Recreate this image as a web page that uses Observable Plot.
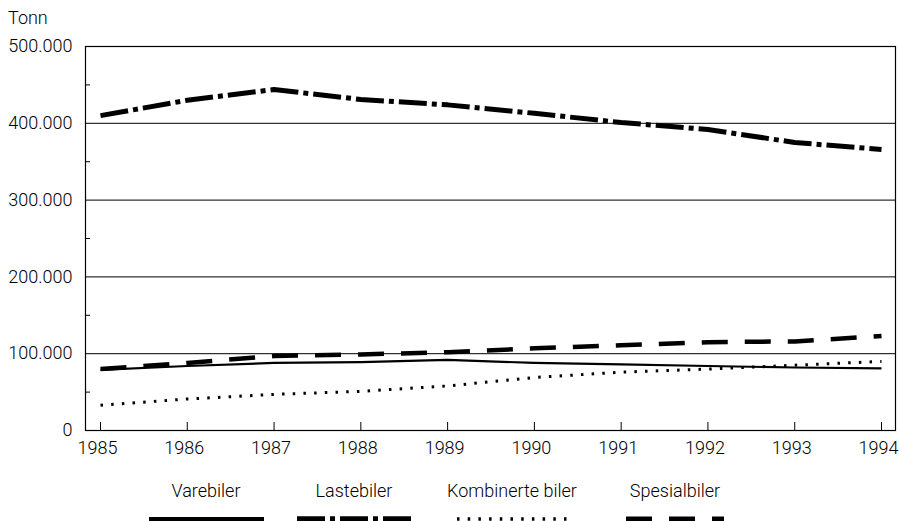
<!DOCTYPE html>
<html>
<head>
<meta charset="utf-8">
<script src="https://cdn.jsdelivr.net/npm/d3@7"></script>
<script src="https://cdn.jsdelivr.net/npm/@observablehq/plot@0.6"></script>
<style>
  html, body { margin: 0; padding: 0; background: #fff; }
  #wrap { position: relative; width: 899px; height: 521px; overflow: hidden; font-family: Roboto, "Liberation Sans", Arial, sans-serif; font-weight: 300; color: #000; }
  #unit { position: absolute; left: 8px; top: 8px; font-size: 18px; line-height: 20px; }
  #chart { position: absolute; left: 0; top: 0; }
  #legend { position: absolute; left: 0; top: 480px; width: 899px; height: 41px; }
  .item { position: absolute; top: 0; width: 180px; text-align: center; font-size: 18px; line-height: 22px; }
  .item svg { display: block; margin: 11px auto 0 auto; }
</style>
</head>
<body>
<div id="wrap">
  <div id="chart"></div>
  <div id="unit">Tonn</div>
  <div id="legend"></div>
</div>
<script>
const years = [1985, 1986, 1987, 1988, 1989, 1990, 1991, 1992, 1993, 1994];
const varebiler    = [79000, 84000, 88000, 89000, 92000, 88000, 86000, 84000, 82000, 81000];
const lastebiler   = [410000, 430000, 444000, 431000, 424000, 413000, 401000, 392000, 375000, 366000];
const kombinerte   = [33000, 41000, 47000, 51000, 58000, 69000, 76000, 80000, 85000, 90000];
const spesialbiler = [80000, 88000, 97000, 99000, 102000, 107000, 111000, 115000, 116000, 123000];

const seriesNames = ["Varebiler", "Lastebiler", "Kombinerte biler", "Spesialbiler"];
const seriesValues = [varebiler, lastebiler, kombinerte, spesialbiler];
const yMajorTicks = [0, 100000, 200000, 300000, 400000, 500000];
const yMinorTicks = [50000, 150000, 250000, 350000, 450000];
const gridValues = [100000, 200000, 300000, 400000];

const styles = [
  { strokeWidth: 2.2, strokeDasharray: null },
  { strokeWidth: 5, strokeDasharray: "28,5,5,5" },
  { strokeWidth: 3, strokeDasharray: "2.5,8.2" },
  { strokeWidth: 4.5, strokeDasharray: "26,17" }
];

const fmt = d => d === 0 ? "0" : d3.format(",.0f")(d).replace(/,/g, ".");

const lineMarks = seriesValues.map((vals, s) => {
  const rows = years.map((yr, i) => ({ year: yr, value: vals[i] }));
  return Plot.line(rows, {
    x: "year", y: "value", stroke: "black",
    strokeWidth: styles[s].strokeWidth,
    strokeDasharray: styles[s].strokeDasharray,
    strokeLinecap: "butt", strokeLinejoin: "round"
  });
});

const chart = Plot.plot({
  width: 899, height: 470,
  marginTop: 46, marginLeft: 85, marginRight: 4, marginBottom: 40,
  style: { fontFamily: "Roboto, 'Liberation Sans', Arial, sans-serif", fontWeight: 300, fontSize: "18px", color: "black", background: "white" },
  x: { domain: [1985, 1994], range: [100, 881], label: null },
  y: { domain: [0, 500000], range: [430, 46], label: null },
  marks: [
    Plot.ruleY(gridValues, { stroke: "black", strokeWidth: 1 }),
    Plot.frame({ stroke: "black", strokeWidth: 1.2 }),
    Plot.axisY({ ticks: yMajorTicks, tickSize: 0, tickPadding: 13, tickFormat: fmt, fill: "black", label: null }),
    Plot.axisY({ ticks: yMinorTicks, tickSize: 5, dx: 5, tickFormat: () => "", stroke: "black", label: null }),
    Plot.axisX({ ticks: years, tickSize: 8, dy: -8, tickFormat: () => "", stroke: "black", label: null }),
    Plot.axisX({ ticks: years, tickSize: 0, tickPadding: 11, dx: -3, tickFormat: d => String(d), fill: "black", label: null }),
    ...lineMarks
  ]
});
document.getElementById("chart").appendChild(chart);

// legend
const legendCenters = [206, 354, 512, 675];
const sampleWidths = [115, 115, 110, 98];
const legend = document.getElementById("legend");
seriesNames.forEach((name, s) => {
  const item = document.createElement("div");
  item.className = "item";
  item.style.left = (legendCenters[s] - 90) + "px";
  item.textContent = name;
  const w = sampleWidths[s];
  const svg = d3.create("svg").attr("width", w).attr("height", 12);
  svg.append("line").attr("x1", 0).attr("x2", w).attr("y1", 6).attr("y2", 6)
    .attr("stroke", "black")
    .attr("stroke-width", s === 0 ? 4 : styles[s].strokeWidth + 0.5)
    .attr("stroke-dasharray", styles[s].strokeDasharray);
  item.appendChild(svg.node());
  legend.appendChild(item);
});
</script>
</body>
</html>
